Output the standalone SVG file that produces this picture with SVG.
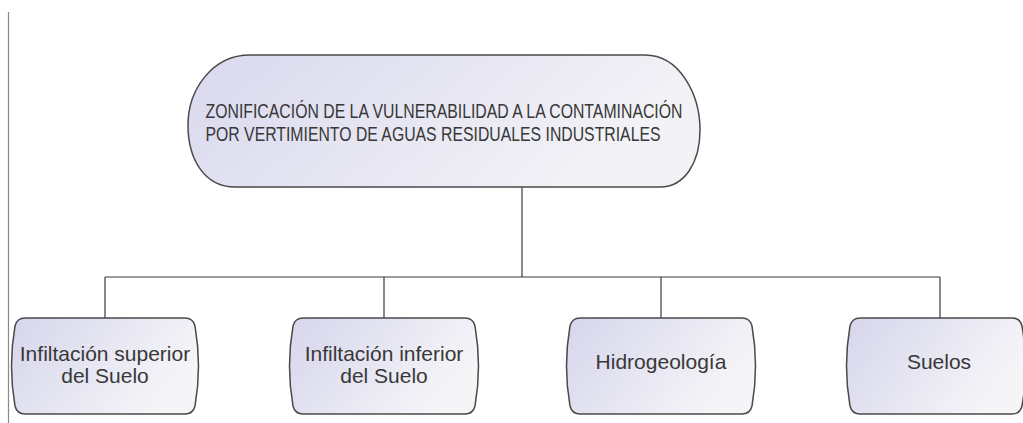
<svg xmlns="http://www.w3.org/2000/svg" width="1023" height="423" viewBox="0 0 1023 423">
<defs>
<linearGradient id="gPill" x1="0" y1="0" x2="1" y2="0.3">
<stop offset="0" stop-color="#d9d8ee"/>
<stop offset="1" stop-color="#f3f3f7"/>
</linearGradient>
<linearGradient id="gBox" x1="0" y1="0" x2="1" y2="0.4">
<stop offset="0" stop-color="#d6d5ec"/>
<stop offset="1" stop-color="#f5f5f8"/>
</linearGradient>
<style>
.shape{stroke:#4a4a4a;stroke-width:1.5}
.pill{fill:url(#gPill)}
.box{fill:url(#gBox)}
.t{font-family:"Liberation Sans",Arial,sans-serif;fill:#383838;text-anchor:middle}
.tt{font-size:21px}
.bt{font-size:21px}
.conn{fill:none;stroke:#3a3a3a;stroke-width:1.2}
</style>
</defs>
<rect width="1023" height="423" fill="#fff"/>
<line x1="8.5" y1="12" x2="8.5" y2="423" stroke="#8a8a8a" stroke-width="1.2"/>
<g id="connectors">
<path class="conn" d="M522,187 V277 M105,277 H940 M105,277 V318 M384,277 V318 M661,277 V318 M940,277 V318"/>
</g>
<g id="root">
<path class="shape pill" d="M250,55 H645 C680,55 700,95 700,130 C700,162 685,187 660,187 H235 C205,187 188,160 188,125 C188,90 212,55 250,55 Z"/>
<text class="t tt" x="444" y="118" textLength="477" lengthAdjust="spacingAndGlyphs">ZONIFICACIÓN DE LA VULNERABILIDAD A LA CONTAMINACIÓN</text>
<text class="t tt" x="433" y="141" textLength="455" lengthAdjust="spacingAndGlyphs">POR VERTIMIENTO DE AGUAS RESIDUALES INDUSTRIALES</text>
</g>
<g id="n1">
<path class="shape box" d="M25,318 H185 Q193,318 195,326 Q202,366 195,406 Q193,414 185,414 H25 Q17,414 15,406 Q8,366 15,326 Q17,318 25,318 Z"/>
<text class="t bt" x="105" y="361">Infiltación superior</text>
<text class="t bt" x="105" y="383">del Suelo</text>
</g>
<g id="n2">
<path class="shape box" d="M303,318 H465 Q473,318 475,326 Q482,366 475,406 Q473,414 465,414 H303 Q295,414 293,406 Q286,366 293,326 Q295,318 303,318 Z"/>
<text class="t bt" x="384" y="361">Infiltación inferior</text>
<text class="t bt" x="384" y="383">del Suelo</text>
</g>
<g id="n3">
<path class="shape box" d="M580,318 H742 Q750,318 752,326 Q759,366 752,406 Q750,414 742,414 H580 Q572,414 570,406 Q563,366 570,326 Q572,318 580,318 Z"/>
<text class="t bt" x="661" y="369">Hidrogeología</text>
</g>
<g id="n4">
<path class="shape box" d="M860,318 H1012 Q1020,318 1022,326 Q1029,366 1022,406 Q1020,414 1012,414 H860 Q852,414 850,406 Q843,366 850,326 Q852,318 860,318 Z"/>
<text class="t bt" x="939" y="369">Suelos</text>
</g>
</svg>
